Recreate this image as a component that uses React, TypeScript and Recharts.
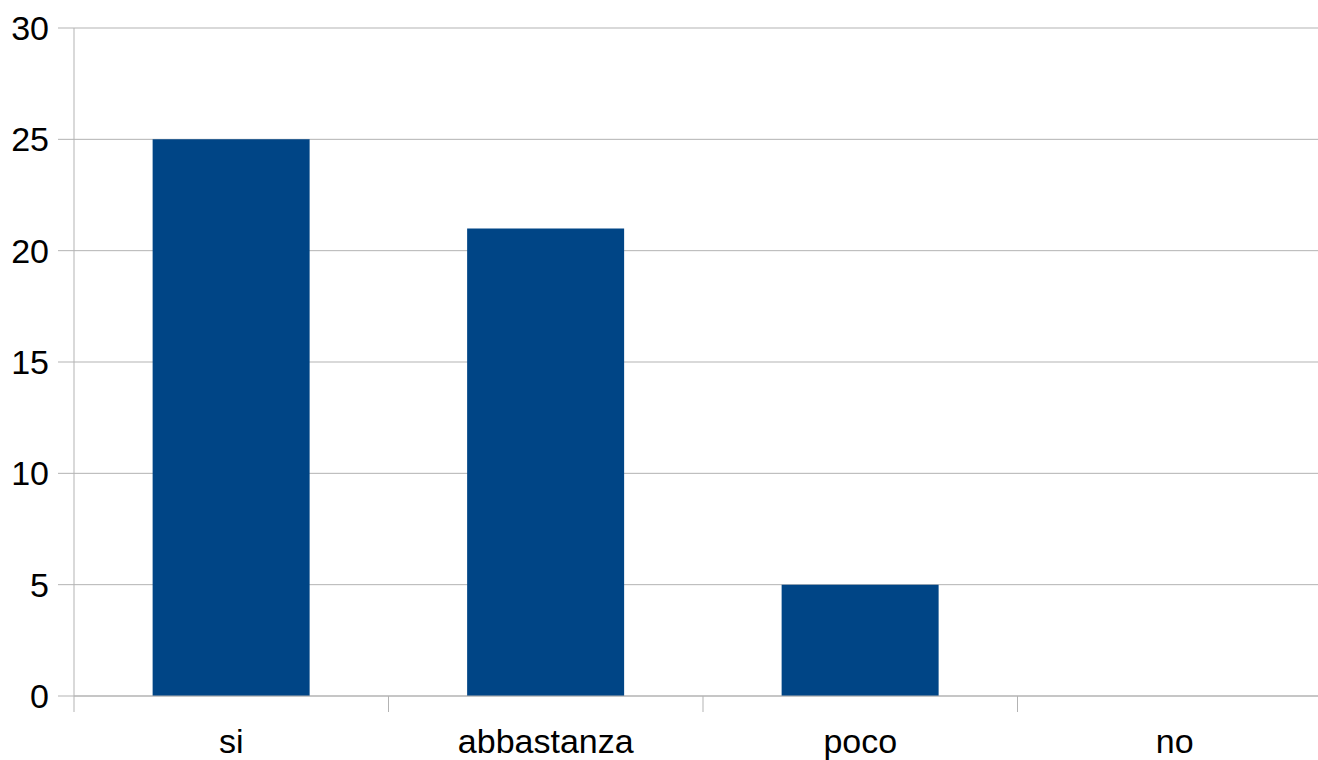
import React from 'react';
import { BarChart, Bar, XAxis, YAxis, CartesianGrid } from 'recharts';

const categories = ['si', 'abbastanza', 'poco', 'no'];
const counts = [25, 21, 5, 0];
const yTicks = [0, 5, 10, 15, 20, 25, 30];

const data = categories.map((name, i) => ({ name, value: counts[i] }));

const CHART_W = 1332;
const CHART_H = 760;
const LEFT = 74;
const BAND = (CHART_W - LEFT) / categories.length;
const FONT = '"Liberation Sans", Arial, sans-serif';

const CategoryTick = (props: any) => {
  const { x, y, payload } = props;
  return (
    <g>
      <line x1={x - BAND / 2} y1={y} x2={x - BAND / 2} y2={y + 16} stroke="#b3b3b3" strokeWidth={1} />
      <text x={x} y={y + 57} textAnchor="middle" fill="#000" fontSize={34} fontFamily={FONT}>
        {payload.value}
      </text>
    </g>
  );
};

const App: React.FC = () => {
  return (
    <div style={{ position: 'absolute', left: 0, top: 0, width: 1318, height: 760, overflow: 'hidden', background: '#fff' }}>
      <BarChart
        width={CHART_W}
        height={CHART_H}
        data={data}
        margin={{ top: 28, right: 0, bottom: 0, left: 0 }}
        barCategoryGap="25%"
      >
        <CartesianGrid vertical={false} stroke="#b3b3b3" />
        <XAxis
          dataKey="name"
          height={64}
          tickLine={false}
          tickSize={0}
          tickMargin={0}
          axisLine={{ stroke: '#b3b3b3' }}
          tick={<CategoryTick />}
          interval={0}
        />
        <YAxis
          width={LEFT}
          domain={[0, 30]}
          ticks={yTicks}
          tickSize={16}
          tickMargin={9}
          axisLine={{ stroke: '#b3b3b3' }}
          tickLine={{ stroke: '#b3b3b3' }}
          tick={{ fill: '#000', fontSize: 34, fontFamily: FONT }}
        />
        <Bar dataKey="value" fill="#004586" isAnimationActive={false} />
      </BarChart>
    </div>
  );
};

export default App;
